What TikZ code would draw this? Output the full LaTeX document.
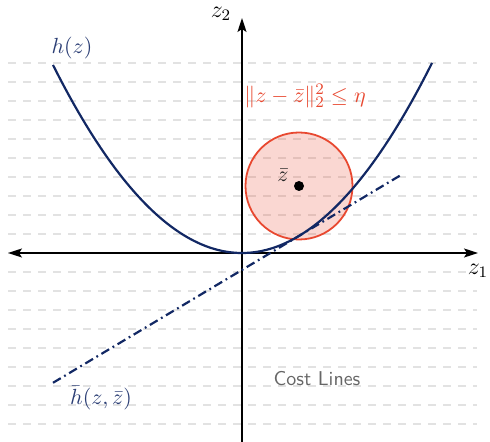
\documentclass[tikz,border=0pt]{standalone}
\usetikzlibrary{arrows.meta}
\definecolor{navyc}{RGB}{18,40,100}
\definecolor{redc}{RGB}{232,72,48}
\definecolor{gridc}{RGB}{226,226,226}
\tikzset{
  gridline/.style={gridc, line width=0.75pt, dash pattern=on 4pt off 3.5pt},
  axisline/.style={black, line width=0.8pt},
  tip/.style={-{Stealth[length=7pt,width=4.5pt,inset=1.5pt]}},
  curveline/.style={navyc, line width=1.1pt},
  tanline/.style={navyc, line width=1.1pt, dash pattern=on 4.5pt off 2pt on 0.9pt off 2pt},
  ballstyle/.style={draw=redc, line width=0.9pt, fill=redc, fill opacity=0.22},
  axlabel/.style={font=\large},
  mlabel/.style={font=\fontsize{11}{13}\selectfont},
}
\begin{document}
\begin{tikzpicture}[x=0.5pt,y=0.5pt]
\useasboundingbox (-242,-189) rectangle (248,253);
% grid cost lines
\foreach \k in {-9,...,10} {
  \draw[gridline] (-234,19*\k) -- (235,19*\k);
}
% ball
\coordinate (zb) at (57,67);
\draw[ballstyle] (zb) circle[radius=53.5];
% axes
\coordinate (xl) at (-234,0);
\coordinate (xr) at (236,0);
\coordinate (yb) at (0,-189);
\coordinate (yt) at (0,235);
\draw[axisline,{Stealth[length=7pt,width=4.5pt,inset=1.5pt]}-{Stealth[length=7pt,width=4.5pt,inset=1.5pt]}] (xl) -- (xr);
\draw[axisline,tip] (yb) -- (yt);
% parabola
\draw[curveline] plot[domain=-189:190, samples=120] (\x, {\x*(\x/190)});
% tangent line
\coordinate (ta) at (-189,-129.8);
\coordinate (tb) at (161,79.2);
\draw[tanline] (ta) -- (tb);
% center dot
\fill[black] (zb) circle[radius=5];
% labels
\node[text=black!85, mlabel] (zbl) at (41,78) {$\bar{z}$};
\node[axlabel] (z2l) at (-21,239) {$z_2$};
\node[axlabel] (z1l) at (236,-18) {$z_1$};
\node[text=navyc!90, mlabel] (hl) at (-170,205) {$h(z)$};
\node[text=navyc!90, mlabel] (hbl) at (-141,-145) {$\bar{h}(z,\bar{z})$};
\node[text=redc, anchor=west, inner sep=0pt, mlabel] (etal) at (2,157) {$\|z-\bar{z}\|_2^2\leq\eta$};
\node[text=black!60, font=\sffamily] (cost) at (75,-126) {Cost Lines};
\end{tikzpicture}
\end{document}
